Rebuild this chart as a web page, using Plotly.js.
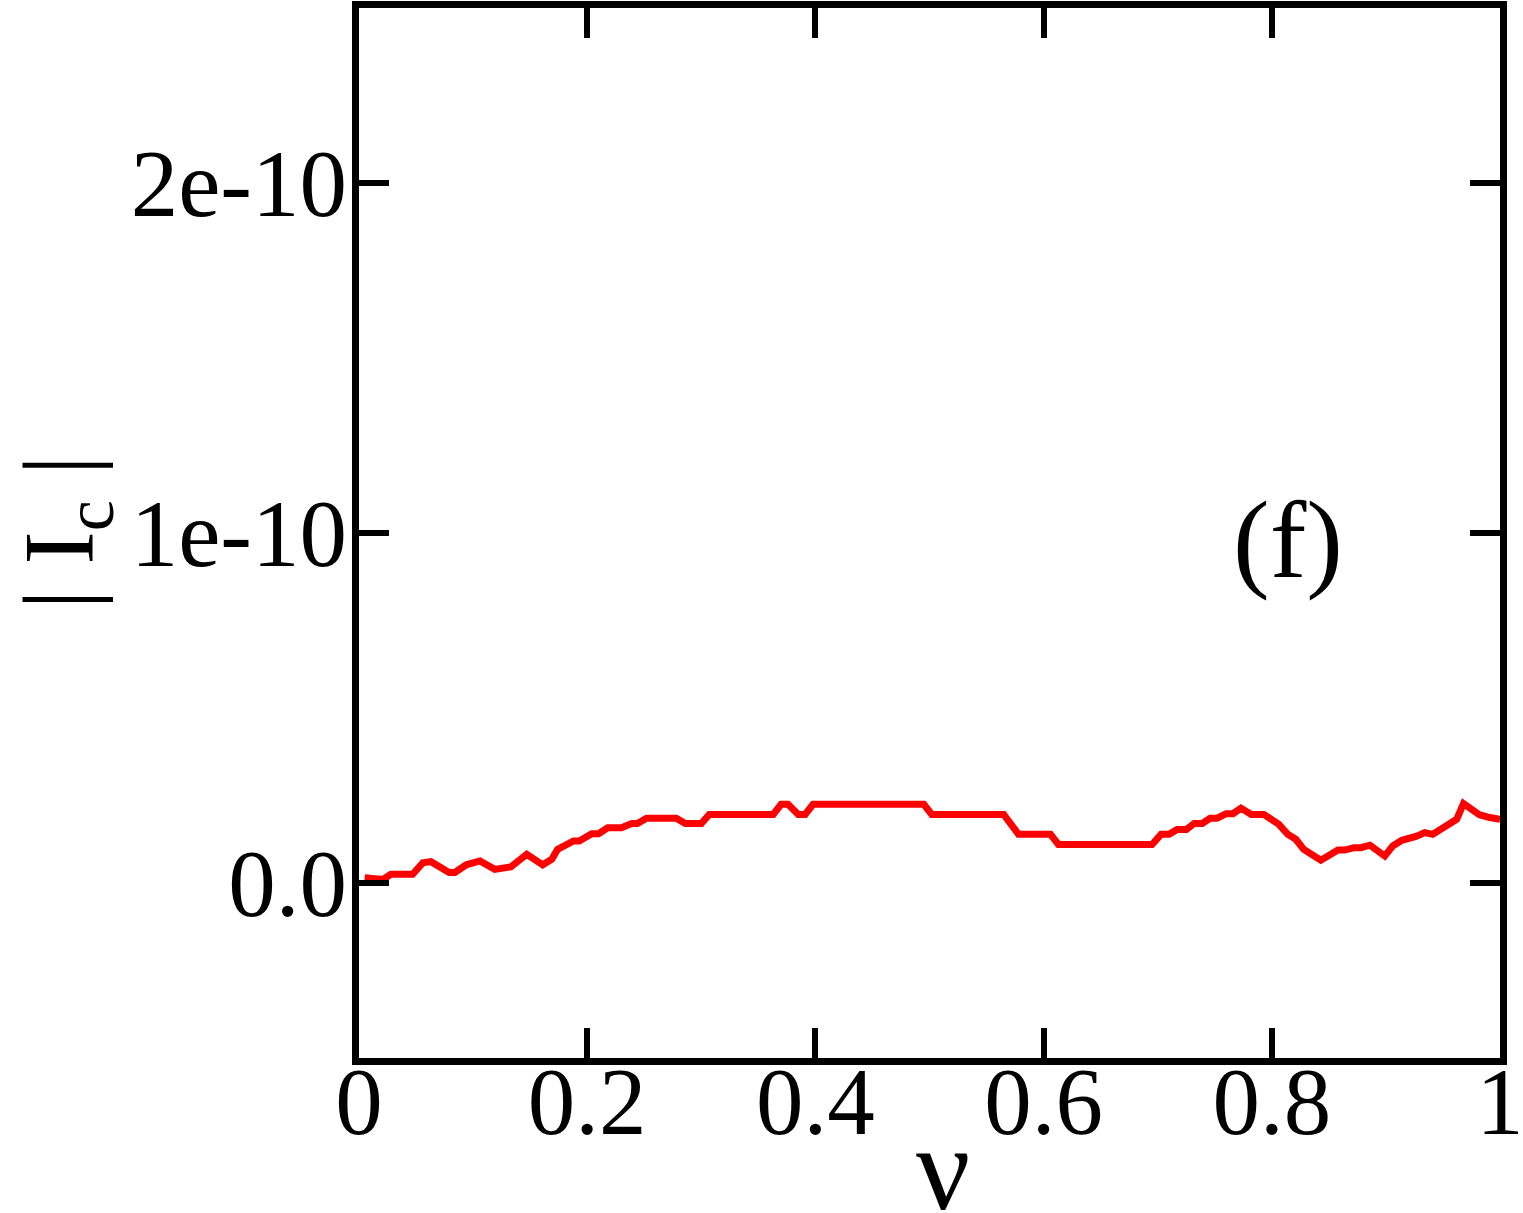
<!DOCTYPE html>
<html>
<head>
<meta charset="utf-8">
<script src="https://cdn.plot.ly/plotly-3.0.1.min.js"></script>
<style>html,body{margin:0;padding:0;background:#fff;}#chart{width:1523px;height:1213px;}</style>
</head>
<body>
<div id="chart"></div>
<script>
// nu values (x) and |Ic| values (in units of 1e-10)
const nu = [0.005, 0.021, 0.028, 0.047, 0.056, 0.063, 0.079, 0.084, 0.094, 0.106, 0.119, 0.128, 0.133, 0.147, 0.161, 0.169, 0.174, 0.188, 0.193, 0.204, 0.21, 0.218, 0.23, 0.239, 0.244, 0.252, 0.278, 0.286, 0.3, 0.307,
  0.363, 0.37, 0.376, 0.385, 0.391, 0.398, 0.495, 0.502, 0.565, 0.578, 0.606, 0.613, 0.695, 0.703, 0.71, 0.717, 0.725, 0.732, 0.739, 0.746, 0.752, 0.76, 0.766, 0.773, 0.782, 0.793, 0.806, 0.814, 0.821, 0.828, 0.843, 0.858, 0.864, 0.872, 0.878, 0.886, 0.899, 0.906, 0.914, 0.927, 0.934, 0.941, 0.953, 0.962, 0.968, 0.982, 0.991, 1.0];
const icScaled = [0.015, 0.01, 0.025, 0.025, 0.058, 0.061, 0.03, 0.03, 0.052, 0.063, 0.039, 0.046, 0.046, 0.082, 0.052, 0.068, 0.096, 0.12, 0.12, 0.141, 0.141, 0.158, 0.158, 0.17, 0.17, 0.185, 0.185, 0.17, 0.17, 0.196,
  0.196, 0.225, 0.225, 0.196, 0.196, 0.225, 0.225, 0.196, 0.196, 0.139, 0.139, 0.11, 0.11, 0.139, 0.139, 0.153, 0.153, 0.17, 0.17, 0.185, 0.185, 0.198, 0.198, 0.214, 0.196, 0.196, 0.168, 0.139, 0.125, 0.096, 0.065, 0.094, 0.094, 0.101, 0.101, 0.108, 0.077, 0.106, 0.122, 0.134, 0.144, 0.139, 0.166, 0.182, 0.227, 0.195, 0.187, 0.182];
const unit = 1e-10;
const xTickVals = [0, 0.2, 0.4, 0.6, 0.8, 1];
const xTickText = ["0", "0.2", "0.4", "0.6", "0.8", "1"];
const yTickVals = [0, 1e-10, 2e-10];
const yTickText = ["0.0", "1e-10", "2e-10"];
const xTitle = "ν";
const yTitle = "| I<sub>c</sub> |";
const panelLabel = "(f)";

const ic = icScaled.map(v => v * unit);
const font = "Liberation Serif, Times New Roman, serif";

const trace = {
  x: nu, y: ic, type: "scatter", mode: "lines",
  line: {color: "#ff0000", width: 7}, hoverinfo: "none"
};

const layout = {
  width: 1523, height: 1213,
  margin: {l: 359, r: 23, t: 8, b: 155, pad: 0},
  paper_bgcolor: "#fff", plot_bgcolor: "#fff",
  showlegend: false,
  font: {family: font, color: "#000", size: 95},
  xaxis: {
    range: [0, 1], tickvals: xTickVals, ticktext: xTickText,
    showgrid: false, zeroline: false,
    showline: true, linecolor: "#000", linewidth: 7, mirror: "ticks",
    ticks: "inside", ticklen: 30, tickwidth: 6, tickcolor: "#000",
    tickfont: {family: font, size: 95, color: "#000"},
    ticklabelstandoff: -45, ticklabeloverflow: "allow"
  },
  yaxis: {
    range: [-0.5e-10, 2.5e-10], tickvals: yTickVals, ticktext: yTickText,
    showgrid: false, zeroline: false,
    showline: true, linecolor: "#000", linewidth: 7, mirror: "ticks",
    ticks: "inside", ticklen: 30, tickwidth: 6, tickcolor: "#000",
    tickfont: {family: font, size: 95, color: "#000"},
    ticklabelstandoff: -14, ticklabeloverflow: "allow"
  },
  annotations: [
    {
      x: 0.814, y: 0.98e-10, xref: "x", yref: "y",
      text: panelLabel, showarrow: false,
      font: {family: font, size: 110, color: "#000"},
      xanchor: "center", yanchor: "middle"
    },
    {
      x: 0.512, y: -0.105, xref: "paper", yref: "paper",
      text: xTitle, showarrow: false,
      font: {family: font, size: 120, color: "#000"},
      xanchor: "center", yanchor: "middle"
    },
    {
      x: -0.258, y: 0.5, xref: "paper", yref: "paper",
      text: yTitle, showarrow: false, textangle: -90,
      font: {family: font, size: 100, color: "#000"},
      xanchor: "center", yanchor: "middle"
    }
  ]
};

Plotly.newPlot("chart", [trace], layout, {staticPlot: true, displayModeBar: false});
</script>
</body>
</html>
